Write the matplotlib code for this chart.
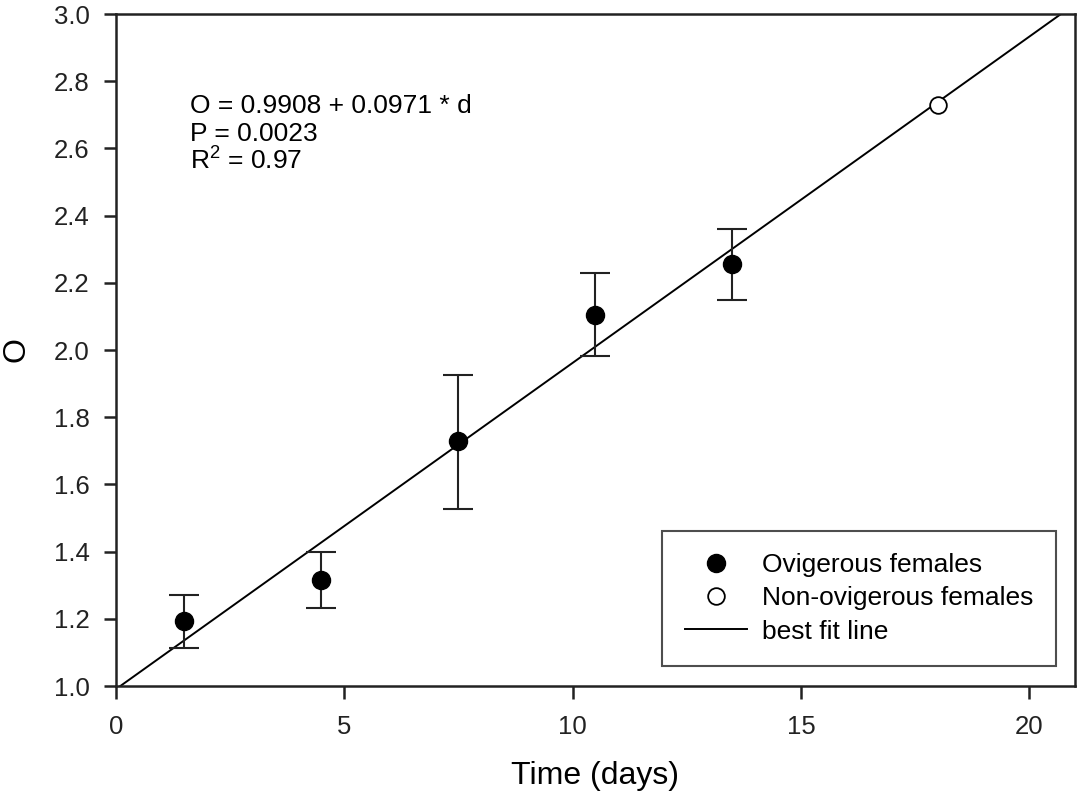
import numpy as np
import matplotlib
matplotlib.use('Agg')
import matplotlib.pyplot as plt

plt.rcParams['font.family'] = ['Liberation Sans', 'DejaVu Sans']

# -----------------------------------------------------------------------------
# data
# -----------------------------------------------------------------------------
ovig_days = [1.5, 4.5, 7.5, 10.5, 13.5]
ovig_o = [1.193, 1.315, 1.729, 2.105, 2.255]
ovig_lo = [1.114, 1.232, 1.528, 1.982, 2.150]
ovig_hi = [1.270, 1.400, 1.926, 2.230, 2.359]

nonovig_days = [18.0]
nonovig_o = [2.729]

fit_a = 0.9908
fit_b = 0.0971

stats_lines = ['O = 0.9908 + 0.0971 * d', 'P = 0.0023',
               '$\\mathregular{R^2}$ = 0.97']

# -----------------------------------------------------------------------------
# figure
# -----------------------------------------------------------------------------
fig = plt.figure(figsize=(10.78, 8.02), dpi=100)
ax = fig.add_axes([0.1076, 0.1446, 0.8896, 0.8379])

xs = np.linspace(0, 21, 200)
ax.plot(xs, fit_a + fit_b * xs, color='black', lw=1.4, label='best fit line',
        zorder=2)

yerr = [np.subtract(ovig_o, ovig_lo), np.subtract(ovig_hi, ovig_o)]
ax.errorbar(ovig_days, ovig_o, yerr=yerr, fmt='none', ecolor='#222222',
            elinewidth=1.5, capsize=11, capthick=1.5, zorder=3)
ax.plot(ovig_days, ovig_o, 'o', color='black', ms=13, ls='none',
        label='Ovigerous females', zorder=4)
ax.plot(nonovig_days, nonovig_o, 'o', mfc='white', mec='black', mew=1.3,
        ms=12, ls='none', label='Non-ovigerous females', zorder=4)

ax.set_xlim(0, 21)
ax.set_ylim(1.0, 3.0)
ax.set_xticks([0, 5, 10, 15, 20])
ax.set_yticks(np.arange(1.0, 3.01, 0.2))
ax.yaxis.set_major_formatter(matplotlib.ticker.FormatStrFormatter('%.1f'))
ax.tick_params(direction='out', length=9, width=1.8, labelsize=18.5,
               colors='#222222', pad=10)
ax.tick_params(axis='x', pad=12)
for s in ax.spines.values():
    s.set_linewidth(1.8)
    s.set_color('#222222')

ax.set_xlabel('Time (days)', fontsize=23, labelpad=16)
ax.set_ylabel('O', fontsize=23, labelpad=16)

# regression statistics, one line per baseline
for txt, yb in zip(stats_lines, [0.8527, 0.811, 0.768]):
    ax.text(0.0772, yb, txt, transform=ax.transAxes, fontsize=19,
            va='baseline', ha='left')

handles, labels = ax.get_legend_handles_labels()
order = [1, 2, 0]
leg = ax.legend([handles[i] for i in order], [labels[i] for i in order],
                loc='lower right', bbox_to_anchor=(0.9805, 0.0296),
                fontsize=19, frameon=True, fancybox=False, edgecolor='#222222',
                borderpad=0.85, handlelength=2.35, handletextpad=0.6,
                labelspacing=0.35, borderaxespad=0)
leg.get_frame().set_linewidth(1.5)

fig.savefig('out.png', dpi=100)
